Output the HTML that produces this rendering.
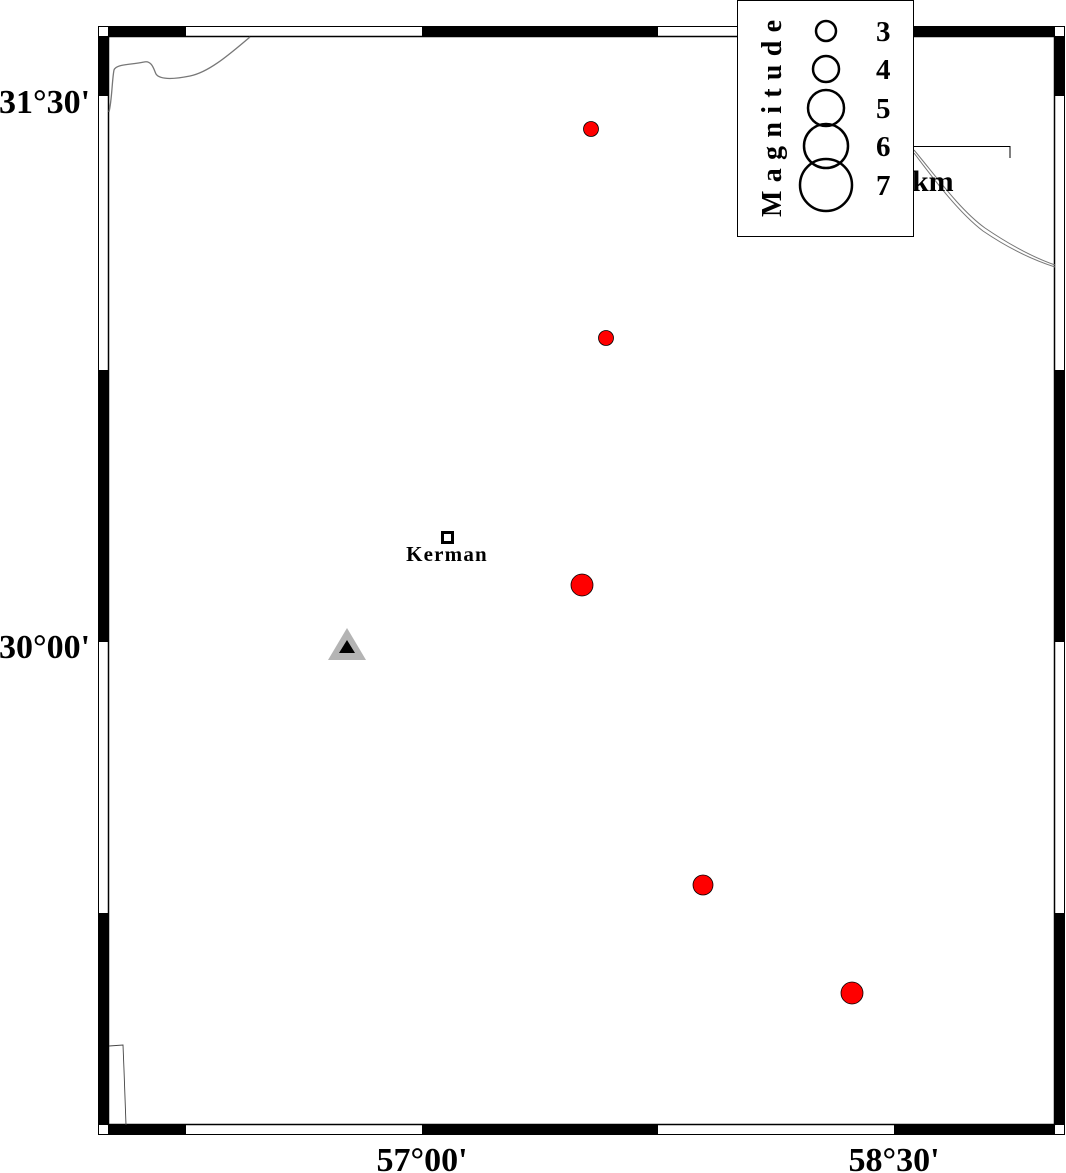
<!DOCTYPE html>
<html><head><meta charset="utf-8"><style>
html,body{margin:0;padding:0;background:#fff;}
svg{display:block;}
text{font-family:"Liberation Serif",serif;font-weight:bold;}
</style></head><body>
<svg width="1066" height="1173" viewBox="0 0 1066 1173" xmlns="http://www.w3.org/2000/svg">
<rect x="0" y="0" width="1066" height="1173" fill="#fff"/>
<rect x="98.5" y="26.5" width="966" height="1108" fill="#fff" stroke="#000" stroke-width="1"/>
<rect x="108.5" y="36.5" width="946" height="1088" fill="#fff" stroke="#000" stroke-width="1.5"/>
<g fill="#000">
<rect x="108" y="26" width="78" height="10"/>
<rect x="422" y="26" width="236" height="10"/>
<rect x="894" y="26" width="161" height="10"/>
<rect x="108" y="1125" width="78" height="10"/>
<rect x="422" y="1125" width="236" height="10"/>
<rect x="894" y="1125" width="161" height="10"/>
<rect x="98" y="36" width="10" height="60"/>
<rect x="98" y="370" width="10" height="272"/>
<rect x="98" y="913" width="10" height="212"/>
<rect x="1055" y="36" width="10" height="60"/>
<rect x="1055" y="370" width="10" height="272"/>
<rect x="1055" y="913" width="10" height="212"/>
</g>
<path d="M109,112 C112,100 112,80 114,70 C116,64 130,65 144,62 C152,60 154,70 156,74 C160,80 175,79 190,76 C210,72 232,52 250,37" fill="none" stroke="#777" stroke-width="1.3"/>
<path d="M914,150 C935,175 960,210 985,228 C1010,245 1035,258 1055,265" fill="none" stroke="#777" stroke-width="1"/>
<path d="M914,153 C933,178 958,212 983,231 C1008,248 1033,260 1055,267" fill="none" stroke="#777" stroke-width="1"/>
<path d="M109,1046 L123,1045 L124,1070 L126,1125" fill="none" stroke="#444" stroke-width="0.9"/>
<path d="M914,146.5 H1010 V158" fill="none" stroke="#000" stroke-width="1"/>
<text x="912" y="191" font-size="30">km</text>
<rect x="737.5" y="0.5" width="176" height="236" fill="#fff" stroke="#000" stroke-width="1"/>
<g fill="none" stroke="#000" stroke-width="2.5">
<circle cx="826" cy="31" r="10"/>
<circle cx="826" cy="69" r="13"/>
<circle cx="826" cy="108" r="18"/>
<circle cx="826" cy="146" r="22"/>
<circle cx="826" cy="185" r="26"/>
</g>
<g font-size="29">
<text x="876" y="41">3</text>
<text x="876" y="79">4</text>
<text x="876" y="118">5</text>
<text x="876" y="156">6</text>
<text x="876" y="195">7</text>
</g>
<text transform="translate(781,217) rotate(-90)" font-size="28" letter-spacing="8.3">Magnitude</text>
<g fill="#f00" stroke="#000" stroke-width="0.8">
<circle cx="591" cy="129" r="7.5"/>
<circle cx="606" cy="338" r="7.5"/>
<circle cx="582" cy="585" r="11"/>
<circle cx="703" cy="885" r="10"/>
<circle cx="852" cy="993" r="11"/>
</g>
<polygon points="347,628 366,660 328,660" fill="#b4b4b4"/>
<polygon points="347,640 355,653 339,653" fill="#000"/>
<rect x="442.5" y="532.5" width="10" height="10" fill="#fff" stroke="#000" stroke-width="3"/>
<text x="447" y="561" font-size="21" text-anchor="middle" letter-spacing="1.2">Kerman</text>
<g font-size="34">
<text x="-1" y="113">31°30'</text>
<text x="-1" y="658">30°00'</text>
<text x="422" y="1171" text-anchor="middle">57°00'</text>
<text x="894" y="1171" text-anchor="middle">58°30'</text>
</g>
</svg>
</body></html>
